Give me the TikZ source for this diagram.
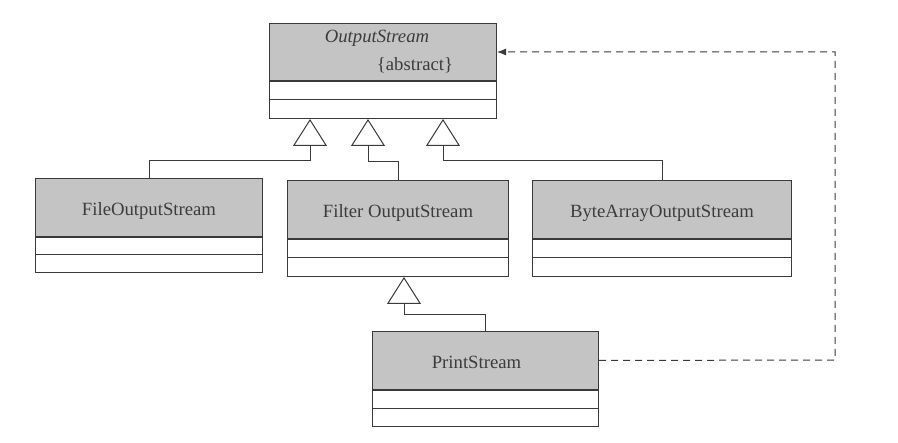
\documentclass[tikz,border=0pt]{standalone}
\usepackage{fontspec}
\setmainfont{Liberation Serif}
\usetikzlibrary{arrows.meta,calc}
\definecolor{ink}{HTML}{3A3A3A}
\definecolor{txt}{HTML}{3C3C3C}
\definecolor{hdrgray}{HTML}{C4C4C4}
\begin{document}
\begin{tikzpicture}[x=1pt,y=-1pt,
  hdr/.style={draw=ink, line width=1pt, fill=hdrgray, rectangle, inner sep=0pt, anchor=north west},
  bodybox/.style={draw=ink, line width=1pt, fill=white, rectangle, inner sep=0pt, anchor=north},
  sep/.style={draw=ink, line width=1pt},
  lbl/.style={text=txt, inner sep=0pt, anchor=base, font=\fontsize{18.7}{22}\selectfont},
  gen/.style={draw=ink, line width=1pt, -{Triangle[open, length=27pt, width=34pt, fill=white]}},
  dep/.style={draw=ink, line width=1pt, dash pattern=on 7pt off 5pt, -{Latex[length=9pt, width=7pt]}}
]
\useasboundingbox (0,0) rectangle (898,443);

% OutputStream
\node[hdr, minimum width=227pt, minimum height=57pt] (os) at (269,23) {};
\node[bodybox, minimum width=227pt, minimum height=37pt] (os-b) at (os.south) {};
\draw[sep] (os-b.west) -- (os-b.east);
\node[lbl] (os-t1) at (377,43) {\itshape OutputStream};
\node[lbl] (os-t2) at (415,71) {\{abstract\}};

% FileOutputStream
\node[hdr, minimum width=227pt, minimum height=58pt] (fos) at (35,178) {};
\node[bodybox, minimum width=227pt, minimum height=35pt] (fos-b) at (fos.south) {};
\draw[sep] (fos-b.west) -- (fos-b.east);
\node[lbl] (fos-t) at ([yshift=-8pt]fos.center) {FileOutputStream};

% Filter OutputStream
\node[hdr, minimum width=221pt, minimum height=58pt] (fios) at (287,180) {};
\node[bodybox, minimum width=221pt, minimum height=37pt] (fios-b) at (fios.south) {};
\draw[sep] (fios-b.west) -- (fios-b.east);
\node[lbl] (fios-t) at ([yshift=-8pt]fios.center) {Filter OutputStream};

% ByteArrayOutputStream
\node[hdr, minimum width=259pt, minimum height=58pt] (baos) at (532,180) {};
\node[bodybox, minimum width=259pt, minimum height=37pt] (baos-b) at (baos.south) {};
\draw[sep] (baos-b.west) -- (baos-b.east);
\node[lbl] (baos-t) at ([yshift=-8pt]baos.center) {ByteArrayOutputStream};

% PrintStream
\node[hdr, minimum width=226pt, minimum height=58pt] (ps) at (372,331) {};
\node[bodybox, minimum width=226pt, minimum height=36pt] (ps-b) at (ps.south) {};
\draw[sep] (ps-b.west) -- (ps-b.east);
\node[lbl] (ps-t) at ([xshift=-9pt,yshift=-8pt]ps.center) {PrintStream};

% arrow tip points
\coordinate (t1) at ($(os-b.south west)+(41,0)$);
\coordinate (t2) at ($(os-b.south west)+(99,0)$);
\coordinate (t3) at ($(os-b.south west)+(174,0)$);
\coordinate (t4) at ($(fios-b.south west)+(117,0)$);

% generalizations
\draw[gen] (fos.north) -- ++(0,-17) -| (t1);
\draw[gen] (fios.north) -- ++(0,-18) -| (t2);
\draw[gen] (baos.north) -- ++(0,-19) -| (t3);
\draw[gen] (ps.north) -- ++(0,-16) -| (t4);

% dependency
\coordinate (dc) at (835,360);
\draw[dep] (ps.east) -- (dc) |- (os.east);
\end{tikzpicture}
\end{document}
